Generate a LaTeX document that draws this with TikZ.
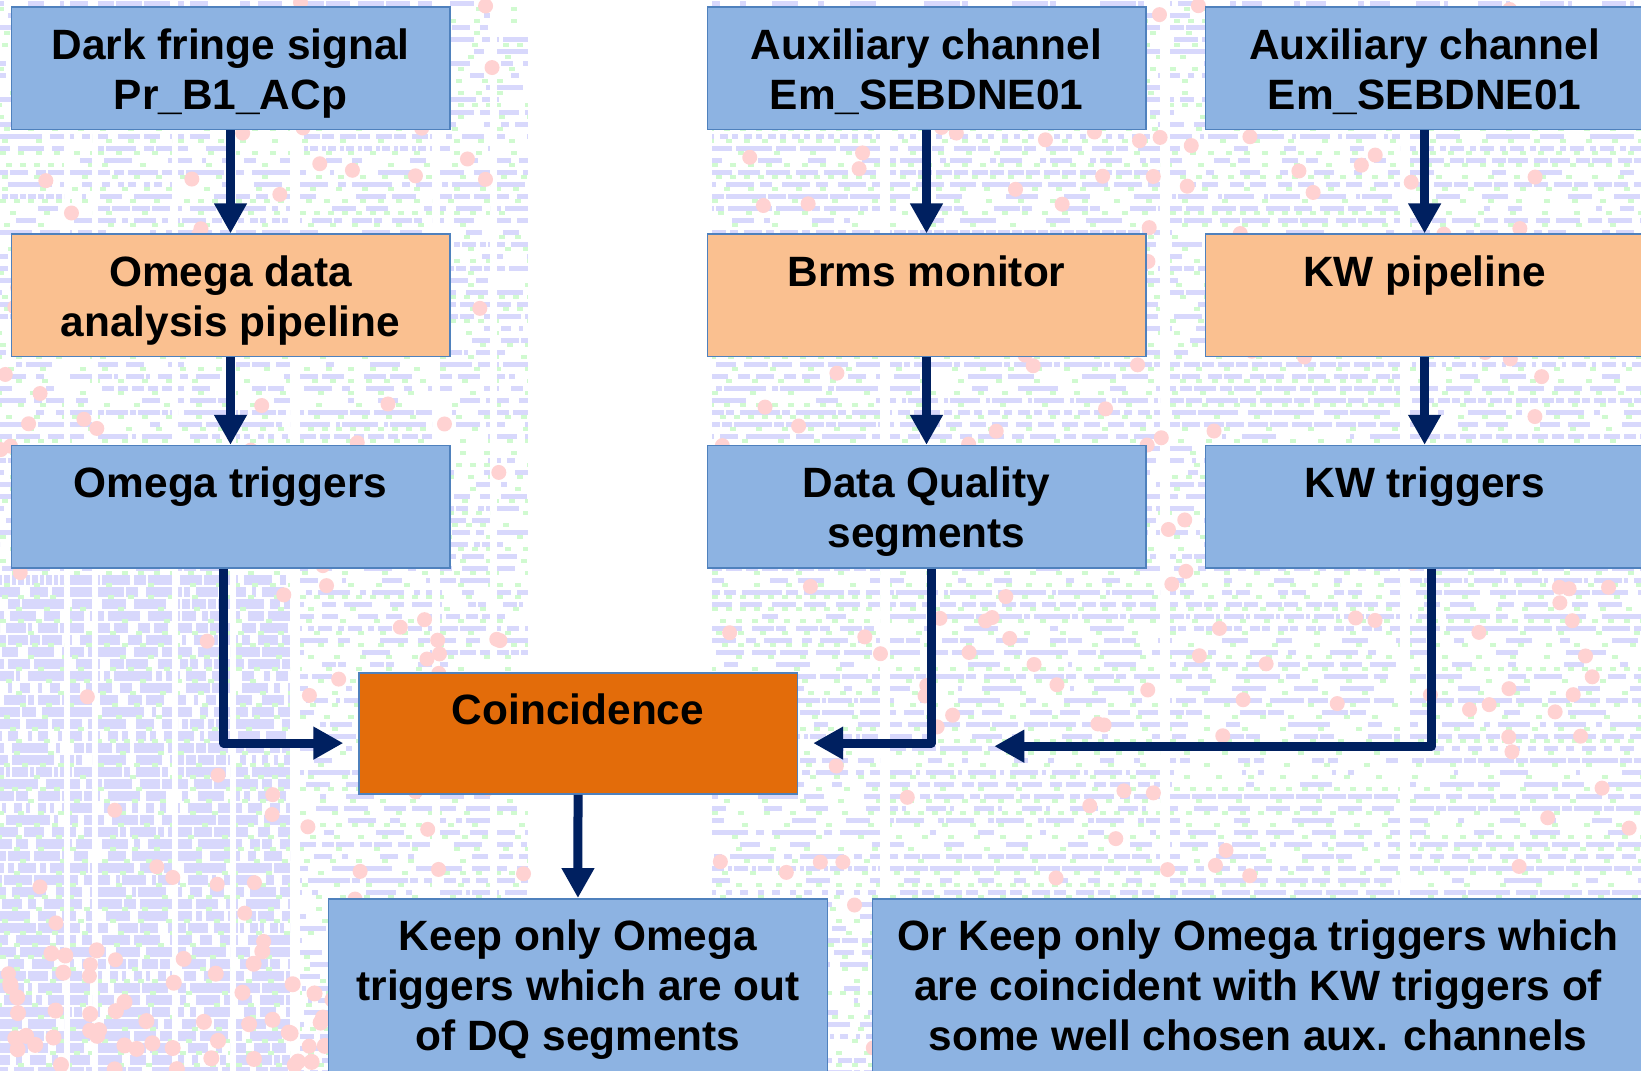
\documentclass[tikz,border=0pt]{standalone}
\usepackage{fontspec}
\setmainfont{Liberation Sans}
\usetikzlibrary{arrows.meta,calc}

\definecolor{boxblue}{RGB}{141,179,226}
\definecolor{boxpeach}{RGB}{250,192,144}
\definecolor{coinorange}{RGB}{227,108,10}
\definecolor{edgeblue}{RGB}{79,129,189}
\definecolor{flownavy}{RGB}{0,32,96}
\definecolor{bglav}{RGB}{216,216,252}
\definecolor{bggreen}{RGB}{208,250,208}
\definecolor{bgpink}{RGB}{255,210,210}

% top-aligned, centred box text: width, height, lines
\newcommand\cardtext[3]{\parbox[c][#2][t]{#1}{\centering\rule{0pt}{26pt}#3}}

\begin{document}
\begin{tikzpicture}[x=0.5pt,y=-0.5pt,
  card/.style={draw=edgeblue, line width=0.75pt, inner sep=0pt, anchor=north west,
    font=\fontsize{21.2}{25}\selectfont\bfseries},
  bluecard/.style={card, fill=boxblue},
  peachcard/.style={card, fill=boxpeach},
  coincard/.style={card, fill=coinorange},
  flow/.style={draw=flownavy, line width=4.5pt, line join=round,
    -{Triangle[width=15.5pt,length=15pt]}},
]
\useasboundingbox (0,0) rectangle (1641,1070);
\clip (0,0) rectangle (1641,1070);
\fill[white] (0,0) rectangle (1641,1070);

% faint scribbled background texture
\pgfmathsetseed{4242}
\foreach \xa/\xb in {0/64, 70/92, 98/172, 178/230, 236/290, 300/432, 440/490, 497/528,
                     712/880, 890/1160, 1170/1400, 1410/1641} {
  \foreach \row in {0,...,89} {
    \pgfmathsetmacro\yy{\row*12+4}
    \pgfmathsetmacro\thick{and(\xb<=290,\yy>575) ? 1 : 0}
    \pgfmathsetmacro\lw{\thick>0.5 ? 4.6 : 2.5}
    \pgfmathsetmacro\dens{\thick>0.5 ? 1 : rnd}
    \pgfmathsetmacro\la{random(3,22)}
    \pgfmathsetmacro\lb{\dens<0.3 ? random(12,40) : random(1,5)}
    \pgfmathsetmacro\lc{random(2,14)}
    \pgfmathsetmacro\ld{\dens<0.5 ? random(6,24) : random(1,4)}
    \pgfmathsetmacro\ph{random(0,30)}
    \draw[bglav, line width=\lw pt,
      dash pattern=on \la pt off \lb pt on \lc pt off \ld pt, dash phase=\ph pt]
      (\xa,\yy) -- (\xb,\yy);
    \pgfmathsetmacro\ga{random(4,18)}
    \pgfmathsetmacro\gp{random(0,20)}
    \draw[bggreen, line width=2pt,
      dash pattern=on 3pt off \ga pt, dash phase=\gp pt]
      (\xa,\yy+5) -- (\xb,\yy+5);
  }
}
\foreach \i in {1,...,340} {
  \pgfmathsetmacro\px{rnd*1457}
  \pgfmathsetmacro\px{\px>528 ? \px+184 : \px}
  \pgfmathsetmacro\py{rnd*1070}
  \fill[bgpink] (\px,\py) circle[radius=7.5];
}
\foreach \i in {1,...,70} {
  \pgfmathsetmacro\px{rnd*510}
  \pgfmathsetmacro\py{950+rnd*120}
  \fill[bgpink] (\px,\py) circle[radius=8];
}

% left column: dark fringe chain
\node[bluecard] (dark) at (10.5,6.3)
  {\cardtext{219.25pt}{61.25pt}{Dark fringe signal\\Pr\_B1\_ACp}};
\node[peachcard] (omdata) at (10.5,233.4)
  {\cardtext{219.25pt}{61.25pt}{Omega data\\analysis pipeline}};
\node[bluecard] (omtrig) at (10.5,444.8)
  {\cardtext{219.25pt}{61.25pt}{Omega triggers}};

% middle column: Brms / data quality chain
\node[bluecard] (aux1) at (706.5,6.3)
  {\cardtext{219.25pt}{61.25pt}{Auxiliary channel\\Em\_SEBDNE01}};
\node[peachcard] (brms) at (706.5,233.4)
  {\cardtext{219.25pt}{61.25pt}{Brms monitor}};
\node[bluecard] (dq) at (706.5,444.8)
  {\cardtext{219.25pt}{61.25pt}{Data Quality\\segments}};

% right column: KW chain
\node[bluecard] (aux2) at (1204.6,6.3)
  {\cardtext{219.25pt}{61.25pt}{Auxiliary channel\\Em\_SEBDNE01}};
\node[peachcard] (kwpipe) at (1204.6,233.4)
  {\cardtext{219.25pt}{61.25pt}{KW pipeline}};
\node[bluecard] (kwtrig) at (1204.6,444.8)
  {\cardtext{219.25pt}{61.25pt}{KW triggers}};

% coincidence and outcomes
\node[coincard] (coin) at (358,672)
  {\cardtext{219.25pt}{60.65pt}{Coincidence}};
\node[bluecard] (keep) at (327.6,898)
  {\cardtext{249.6pt}{100pt}{Keep only Omega\\triggers which are out\\of DQ segments}};
\node[bluecard] (orkeep) at (871.8,898)
  {\cardtext{385.5pt}{100pt}{Or Keep only Omega triggers which\\are coincident with KW triggers of\\some well chosen aux. channels}};

% arrow ends beside the coincidence box
\coordinate (inL) at (343.3,743.1);
\coordinate (inR) at (813.2,743.1);
\coordinate (inK) at (994.3,746.2);

% connectors
\draw[flow] (dark.south) -- (omdata.north);
\draw[flow] (omdata.south) -- (omtrig.north);
\draw[flow] (aux1.south) -- (brms.north);
\draw[flow] (brms.south) -- (dq.north);
\draw[flow] (aux2.south) -- (kwpipe.north);
\draw[flow] (kwpipe.south) -- (kwtrig.north);
\draw[flow] ($(omtrig.south)+(-6.75,0)$) |- (inL);
\draw[flow] ($(dq.south)+(4.65,0)$) |- (inR);
\draw[flow] ($(kwtrig.south)+(6.85,0)$) |- (inK);
\draw[flow] (coin.south) -- (keep.north);
\end{tikzpicture}
\end{document}
